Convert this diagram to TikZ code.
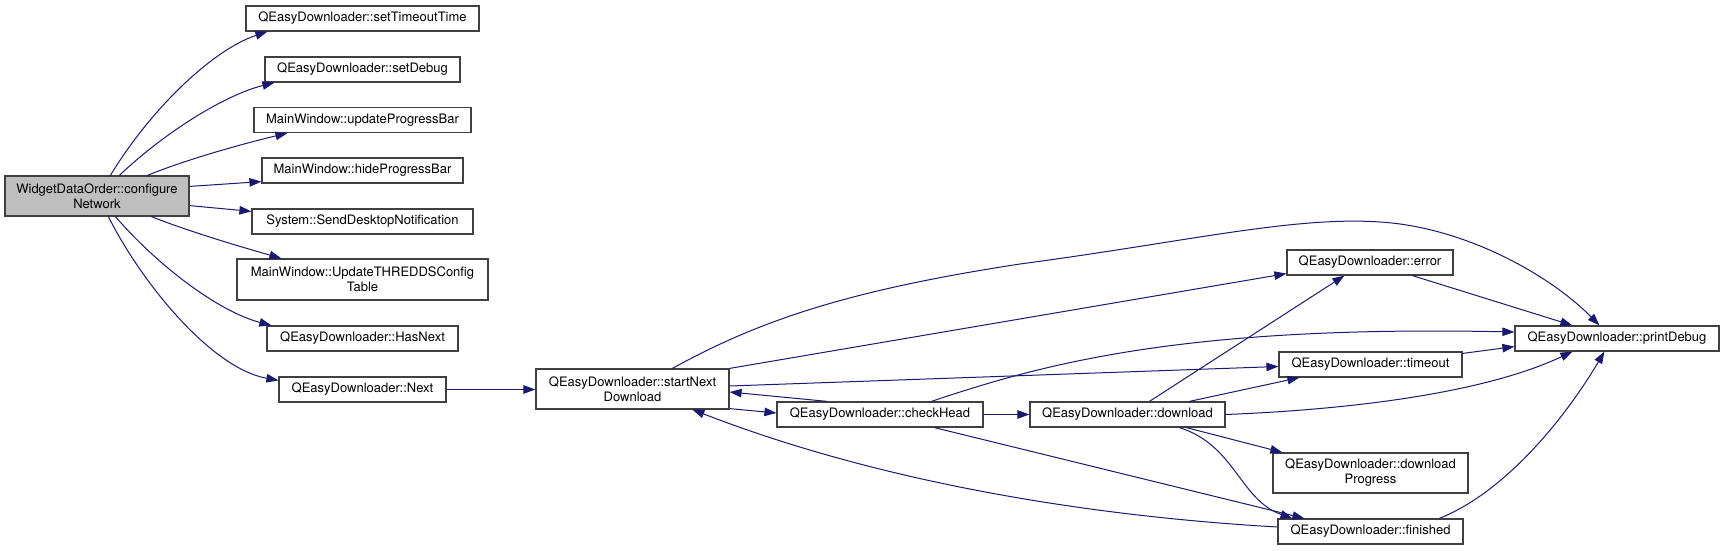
\documentclass[tikz,border=0pt]{standalone}
\usepackage{fontspec}
\setmainfont{TeX Gyre Heros}
\usetikzlibrary{arrows.meta}
\definecolor{edgecol}{HTML}{191970}
\definecolor{boxcol}{HTML}{404040}
\definecolor{cfgfill}{HTML}{BFBFBF}
\begin{document}
\begin{tikzpicture}[x=1pt,y=-1pt,
  fn/.style={draw=boxcol,line width=1.2pt,fill=white,inner sep=0pt,minimum height=25pt,
    font=\fontsize{13}{15}\selectfont,align=center},
  fn2/.style={fn,minimum height=40pt},
  call/.style={draw=edgecol,line width=1pt,-{Triangle[length=12pt,width=8.5pt]},color=edgecol}]
\useasboundingbox (0,0) rectangle (1724,551);
% nodes
\node[fn2,fill=cfgfill,minimum width=184pt] (cfg) at (97,196) {WidgetDataOrder::configure\\Network};
\node[fn,minimum width=233pt] (stt) at (362.5,18.5) {QEasyDownloader::setTimeoutTime};
\node[fn,minimum width=195pt] (sd) at (362.5,69.5) {QEasyDownloader::setDebug};
\node[fn,minimum width=217pt] (upb) at (362.5,120) {MainWindow::updateProgressBar};
\node[fn,minimum width=201pt] (hpb) at (362.5,170.5) {MainWindow::hideProgressBar};
\node[fn,minimum width=221pt] (sdn) at (362.5,221.5) {System::SendDesktopNotification};
\node[fn2,minimum width=251pt,minimum height=41pt] (ut) at (362.5,279.5) {MainWindow::UpdateTHREDDSConfig\\Table};
\node[fn,minimum width=191pt] (hn) at (362.5,338.5) {QEasyDownloader::HasNext};
\node[fn,minimum width=167pt] (nx) at (362.5,389.5) {QEasyDownloader::Next};
\node[fn2,minimum width=193pt] (snd) at (632.5,389) {QEasyDownloader::startNext\\Download};
\node[fn,minimum width=206pt] (ch) at (880,414.5) {QEasyDownloader::checkHead};
\node[fn,minimum width=195pt] (dl) at (1127.5,414.5) {QEasyDownloader::download};
\node[fn,minimum width=166pt] (err) at (1370,262.5) {QEasyDownloader::error};
\node[fn,minimum width=183pt] (to) at (1370.5,364.5) {QEasyDownloader::timeout};
\node[fn2,minimum width=195pt] (dp) at (1370.5,473) {QEasyDownloader::download\\Progress};
\node[fn,minimum width=185pt] (fin) at (1370.5,531.5) {QEasyDownloader::finished};
\node[fn,minimum width=204pt] (pd) at (1617,338.5) {QEasyDownloader::printDebug};
% edges from configureNetwork
\draw[call] ([xshift=106pt]cfg.north west) .. controls (150,110) and (212,50) .. ([xshift=22pt]stt.south west);
\draw[call] ([xshift=115pt]cfg.north west) .. controls (165,132) and (225,95) .. ([xshift=10pt]sd.south west);
\draw[call] ([xshift=143pt]cfg.north west) .. controls (190,158) and (250,142) .. ([xshift=34pt]upb.south west);
\draw[call] ([yshift=-11pt]cfg.north east) -- ([yshift=2pt]hpb.south west);
\draw[call] ([yshift=11pt]cfg.south east) -- ([yshift=-3pt]sdn.north west);
\draw[call] ([xshift=147pt]cfg.south west) .. controls (190,232) and (245,248) .. ([xshift=45pt]ut.north west);
\draw[call] ([xshift=111pt]cfg.south west) .. controls (160,268) and (220,312) .. ([xshift=5pt]hn.north west);
\draw[call] ([xshift=104pt]cfg.south west) .. controls (140,280) and (210,368) .. ([yshift=-4pt]nx.north west);
\draw[call] (nx.east) -- (nx.east -| snd.west);
% edges from startNextDownload
\draw[call] ([xshift=137pt]snd.north west) .. controls (760,320) and (850,290) .. (1020,264)
  .. controls (1200,240) and (1310,212) .. (1400,224)
  .. controls (1480,235) and (1555,280) .. ([xshift=85pt]pd.north west);
\draw[call] (snd.north east) -- ([yshift=2pt]err.south west);
\draw[call] ([yshift=3pt]snd.east) -- ([yshift=-2pt]to.west);
\draw[call] ([yshift=1pt]snd.south east) -- ([yshift=1.5pt]ch.west);
% edges from checkHead
\draw[call] ([xshift=51pt]ch.north west) -- ([yshift=-3pt]snd.east);
\draw[call] ([xshift=155pt]ch.north west) .. controls (1040,365) and (1180,325) .. ([yshift=6.5pt]pd.west);
\draw[call] (ch.east) -- (dl.west);
\draw[call] ([xshift=158pt]ch.south west) -- ([xshift=27pt]fin.north west);
% edges from download
\draw[call] ([xshift=120pt]dl.north west) -- ([xshift=58pt]err.south west);
\draw[call] ([xshift=160pt]dl.north west) -- ([xshift=21pt]to.south west);
\draw[call] (dl.east) .. controls (1340,410) and (1480,395) .. ([xshift=58pt]pd.south west);
\draw[call] ([xshift=157pt]dl.south west) -- ([xshift=10pt]dp.north west);
\draw[call] ([xshift=150pt]dl.south west) .. controls (1235,445) and (1240,500) .. ([xshift=15pt]fin.north west);
% others
\draw[call] ([xshift=126pt]err.south west) -- ([xshift=58pt]pd.north west);
\draw[call] ([yshift=-2pt]to.north east) -- ([yshift=5pt]pd.south west);
\draw[call] ([xshift=162pt]fin.north west) .. controls (1510,490) and (1570,410) .. ([xshift=90pt]pd.south west);
\draw[call] ([yshift=4.5pt]fin.west) .. controls (1120,518) and (900,490) .. ([xshift=157pt]snd.south west);
\end{tikzpicture}
\end{document}
